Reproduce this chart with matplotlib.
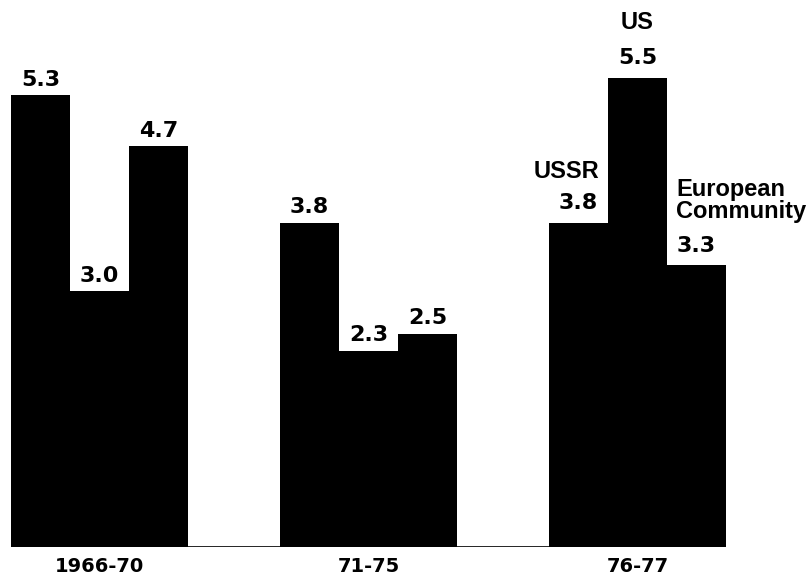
import numpy as np
import matplotlib
matplotlib.use("Agg")
import matplotlib.pyplot as plt

# Growth rates by period
periods = ["1966-70", "71-75", "76-77"]
series = ["USSR", "US", "European Community"]
ussr = [5.3, 3.8, 3.8]
us = [3.0, 2.3, 5.5]
ec = [4.7, 2.5, 3.3]

values = np.array([ussr, us, ec])
x = np.arange(len(periods))
width = 0.219
offsets = [-width, 0, width]

num_font = dict(family="DejaVu Sans", weight="bold", size=16)
word_font = dict(family="Liberation Sans", weight="bold", size=17)

fig = plt.figure(figsize=(8.08, 5.76), dpi=100)
ax = fig.add_axes([0, 29 / 576, 1, 547 / 576])

# value label gap above the bar tops (points), per period
gaps = [6.5, 7, 10]

for i, off in enumerate(offsets):
    bars = ax.bar(x + off, values[i], width=width, color="black", linewidth=0)
    for j, b in enumerate(bars):
        ax.annotate(f"{values[i][j]:.1f}", (b.get_x() + b.get_width() / 2, b.get_height()),
                    xytext=(0, gaps[j]), textcoords="offset points",
                    ha="center", va="baseline", **num_font)

# series names next to the last period
last = len(periods) - 1
ax.annotate(series[0], (x[last] + offsets[0] + width / 2, values[0][last]),
            xytext=(-6, 32), textcoords="offset points",
            ha="right", va="baseline", **word_font)
ax.annotate(series[1], (x[last] + offsets[1], values[1][last]),
            xytext=(0, 35), textcoords="offset points",
            ha="center", va="baseline", **word_font)
ec_words = series[2].split()
ax.annotate(ec_words[0], (x[last] + offsets[2] - width / 2, values[2][last]),
            xytext=(6.5, 50), textcoords="offset points",
            ha="left", va="baseline", **word_font)
ax.annotate(ec_words[1], (x[last] + offsets[2] - width / 2, values[2][last]),
            xytext=(6.5, 34), textcoords="offset points",
            ha="left", va="baseline", **word_font)

# thin baseline under all bars
ax.hlines(0, x[0] + offsets[0] - width / 2, x[-1] + offsets[-1] + width / 2,
          color="black", linewidth=1.2)

ax.set_xlim(-0.370, 2.634)
ax.set_ylim(0, 6.41)
ax.set_xticks(x)
ax.set_xticklabels(periods, **dict(family="DejaVu Sans", weight="bold", size=14))
ax.tick_params(axis="x", length=0, pad=7)
ax.set_yticks([])
for s in ax.spines.values():
    s.set_visible(False)

fig.savefig("out.png", dpi=100)
